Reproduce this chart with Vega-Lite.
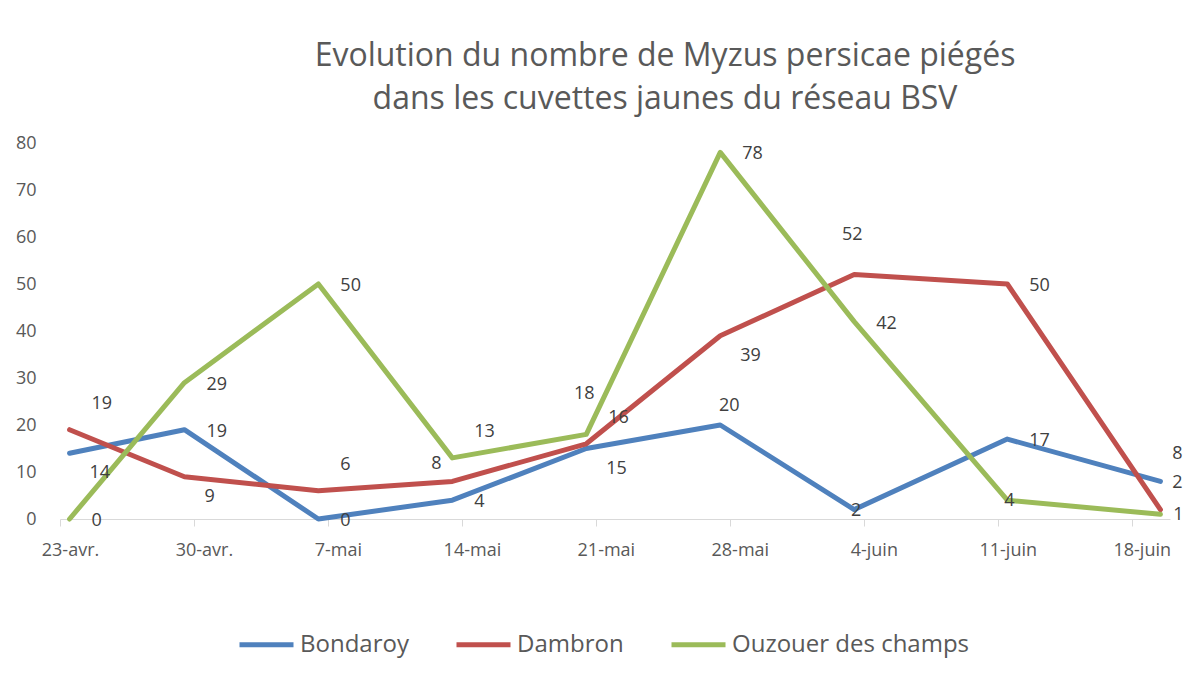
{
  "$schema": "https://vega.github.io/schema/vega-lite/v6.json",
  "width": 1110,
  "height": 376,
  "autosize": {"type": "none"},
  "padding": {"left": 60, "top": 143, "right": 16, "bottom": 163},
  "background": "white",
  "title": {
    "text": ["Evolution du nombre de Myzus persicae piégés", "dans les cuvettes jaunes du réseau BSV"],
    "font": "Open Sans",
    "fontSize": 32,
    "fontWeight": "normal",
    "color": "#595959",
    "anchor": "middle",
    "frame": "group",
    "dx": 50,
    "offset": 18,
    "lineHeight": 43
  },
  "data": {
    "values": [
      {"date": "2014-04-23T12:00:00", "site": "Bondaroy", "nombre": 14},
      {"date": "2014-04-29T12:00:00", "site": "Bondaroy", "nombre": 19},
      {"date": "2014-05-06T12:00:00", "site": "Bondaroy", "nombre": 0},
      {"date": "2014-05-13T12:00:00", "site": "Bondaroy", "nombre": 4},
      {"date": "2014-05-20T12:00:00", "site": "Bondaroy", "nombre": 15},
      {"date": "2014-05-27T12:00:00", "site": "Bondaroy", "nombre": 20},
      {"date": "2014-06-03T12:00:00", "site": "Bondaroy", "nombre": 2},
      {"date": "2014-06-11T12:00:00", "site": "Bondaroy", "nombre": 17},
      {"date": "2014-06-19T12:00:00", "site": "Bondaroy", "nombre": 8},
      {"date": "2014-04-23T12:00:00", "site": "Dambron", "nombre": 19},
      {"date": "2014-04-29T12:00:00", "site": "Dambron", "nombre": 9},
      {"date": "2014-05-06T12:00:00", "site": "Dambron", "nombre": 6},
      {"date": "2014-05-13T12:00:00", "site": "Dambron", "nombre": 8},
      {"date": "2014-05-20T12:00:00", "site": "Dambron", "nombre": 16},
      {"date": "2014-05-27T12:00:00", "site": "Dambron", "nombre": 39},
      {"date": "2014-06-03T12:00:00", "site": "Dambron", "nombre": 52},
      {"date": "2014-06-11T12:00:00", "site": "Dambron", "nombre": 50},
      {"date": "2014-06-19T12:00:00", "site": "Dambron", "nombre": 2},
      {"date": "2014-04-23T12:00:00", "site": "Ouzouer des champs", "nombre": 0},
      {"date": "2014-04-29T12:00:00", "site": "Ouzouer des champs", "nombre": 29},
      {"date": "2014-05-06T12:00:00", "site": "Ouzouer des champs", "nombre": 50},
      {"date": "2014-05-13T12:00:00", "site": "Ouzouer des champs", "nombre": 13},
      {"date": "2014-05-20T12:00:00", "site": "Ouzouer des champs", "nombre": 18},
      {"date": "2014-05-27T12:00:00", "site": "Ouzouer des champs", "nombre": 78},
      {"date": "2014-06-03T12:00:00", "site": "Ouzouer des champs", "nombre": 42},
      {"date": "2014-06-11T12:00:00", "site": "Ouzouer des champs", "nombre": 4},
      {"date": "2014-06-19T12:00:00", "site": "Ouzouer des champs", "nombre": 1}
    ]
  },
  "encoding": {
    "x": {
      "field": "date",
      "type": "temporal",
      "scale": {"domain": [{"year": 2014, "month": 4, "date": 23}, {"year": 2014, "month": 6, "date": 20}]},
      "axis": {
        "title": null,
        "values": [
          {"year": 2014, "month": 4, "date": 23},
          {"year": 2014, "month": 4, "date": 30},
          {"year": 2014, "month": 5, "date": 7},
          {"year": 2014, "month": 5, "date": 14},
          {"year": 2014, "month": 5, "date": 21},
          {"year": 2014, "month": 5, "date": 28},
          {"year": 2014, "month": 6, "date": 4},
          {"year": 2014, "month": 6, "date": 11},
          {"year": 2014, "month": 6, "date": 18}
        ],
        "labelExpr": "date(datum.value) + '-' + (month(datum.value) == 3 ? 'avr.' : month(datum.value) == 4 ? 'mai' : 'juin')",
        "grid": false,
        "domainColor": "#d9d9d9",
        "domainWidth": 1,
        "tickColor": "#d9d9d9",
        "tickSize": 7,
        "labelFont": "Open Sans",
        "labelFontSize": 18,
        "labelColor": "#595959",
        "labelPadding": 15,
        "labelOffset": 10,
        "labelFlush": false,
        "labelOverlap": false
      }
    },
    "y": {
      "field": "nombre",
      "type": "quantitative",
      "scale": {"domain": [0, 80]},
      "axis": {
        "title": null,
        "values": [0, 10, 20, 30, 40, 50, 60, 70, 80],
        "grid": false,
        "domain": false,
        "ticks": false,
        "tickSize": 0,
        "labelPadding": 24,
        "labelFont": "Open Sans",
        "labelFontSize": 18,
        "labelColor": "#595959"
      }
    },
    "color": {
      "field": "site",
      "type": "nominal",
      "scale": {"domain": ["Bondaroy", "Dambron", "Ouzouer des champs"], "range": ["#4F81BD", "#C0504D", "#9BBB59"]},
      "legend": {
        "title": null,
        "orient": "none",
        "direction": "horizontal",
        "legendX": 177,
        "legendY": 472,
        "symbolType": "stroke",
        "symbolSize": 2916,
        "symbolStrokeWidth": 5,
        "labelFont": "Open Sans",
        "labelFontSize": 24,
        "labelColor": "#595959",
        "labelOffset": 4,
        "labelLimit": 0,
        "columnPadding": 37
      }
    }
  },
  "layer": [
    {"mark": {"type": "line", "strokeWidth": 5, "strokeCap": "round", "strokeJoin": "round"}},
    {
      "transform": [{"filter": "indexof(['Bondaroy|19','Bondaroy|0','Bondaroy|4','Bondaroy|17','Dambron|50','Ouzouer des champs|0','Ouzouer des champs|29','Ouzouer des champs|50','Ouzouer des champs|78','Ouzouer des champs|42'], datum.site + '|' + datum.nombre) >= 0"}],
      "mark": {"type": "text", "align": "left", "baseline": "middle", "dx": 22, "dy": 2, "fontSize": 18, "font": "Open Sans"},
      "encoding": {"text": {"field": "nombre", "type": "quantitative"}, "color": {"value": "#404040"}}
    },
    {
      "transform": [{"filter": "indexof(['Dambron|19','Dambron|6','Dambron|16','Ouzouer des champs|13'], datum.site + '|' + datum.nombre) >= 0"}],
      "mark": {"type": "text", "align": "left", "baseline": "middle", "dx": 22, "dy": -26, "fontSize": 18, "font": "Open Sans"},
      "encoding": {"text": {"field": "nombre", "type": "quantitative"}, "color": {"value": "#404040"}}
    },
    {
      "transform": [{"filter": "datum.site == 'Bondaroy' && datum.nombre == 20"}],
      "mark": {"type": "text", "align": "center", "baseline": "middle", "dx": 9, "dy": -19, "fontSize": 18, "font": "Open Sans"},
      "encoding": {"text": {"field": "nombre", "type": "quantitative"}, "color": {"value": "#404040"}}
    },
    {
      "transform": [{"filter": "datum.site == 'Dambron' && datum.nombre == 8"}],
      "mark": {"type": "text", "align": "center", "baseline": "middle", "dx": -16, "dy": -17, "fontSize": 18, "font": "Open Sans"},
      "encoding": {"text": {"field": "nombre", "type": "quantitative"}, "color": {"value": "#404040"}}
    },
    {
      "transform": [{"filter": "indexof(['Dambron|52','Ouzouer des champs|18'], datum.site + '|' + datum.nombre) >= 0"}],
      "mark": {"type": "text", "align": "center", "baseline": "middle", "dx": -2, "dy": -40, "fontSize": 18, "font": "Open Sans"},
      "encoding": {"text": {"field": "nombre", "type": "quantitative"}, "color": {"value": "#404040"}}
    },
    {
      "transform": [{"filter": "indexof(['Bondaroy|14','Dambron|9','Dambron|39','Bondaroy|15'], datum.site + '|' + datum.nombre) >= 0"}],
      "mark": {"type": "text", "align": "left", "baseline": "middle", "dx": 20, "dy": 20, "fontSize": 18, "font": "Open Sans"},
      "encoding": {"text": {"field": "nombre", "type": "quantitative"}, "color": {"value": "#404040"}}
    },
    {
      "transform": [{"filter": "indexof(['Bondaroy|2','Ouzouer des champs|4'], datum.site + '|' + datum.nombre) >= 0"}],
      "mark": {"type": "text", "align": "center", "baseline": "middle", "dx": 2, "dy": 1, "fontSize": 18, "font": "Open Sans"},
      "encoding": {"text": {"field": "nombre", "type": "quantitative"}, "color": {"value": "#404040"}}
    },
    {
      "transform": [{"filter": "indexof(['Bondaroy|8','Dambron|2'], datum.site + '|' + datum.nombre) >= 0"}],
      "mark": {"type": "text", "align": "center", "baseline": "middle", "dx": 17, "dy": -27, "fontSize": 18, "font": "Open Sans"},
      "encoding": {"text": {"field": "nombre", "type": "quantitative"}, "color": {"value": "#404040"}}
    },
    {
      "transform": [{"filter": "datum.site == 'Ouzouer des champs' && datum.nombre == 1"}],
      "mark": {"type": "text", "align": "center", "baseline": "middle", "dx": 18, "dy": 1, "fontSize": 18, "font": "Open Sans"},
      "encoding": {"text": {"field": "nombre", "type": "quantitative"}, "color": {"value": "#404040"}}
    }
  ],
  "config": {"view": {"stroke": null}}
}
